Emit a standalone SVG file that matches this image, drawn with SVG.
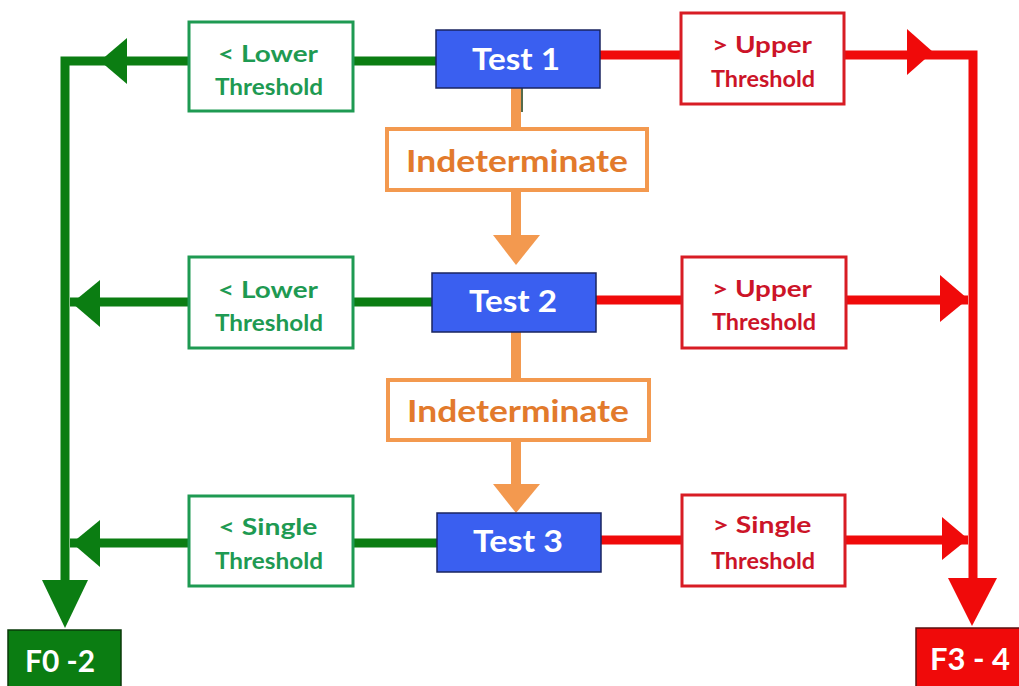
<svg xmlns="http://www.w3.org/2000/svg" width="1019" height="686" viewBox="0 0 1019 686">
<style>
text{font-family:Lato,"Open Sans","Liberation Sans",sans-serif;font-weight:bold;text-anchor:middle}
.test rect{fill:#3a5ff0;stroke:#1a2460;stroke-width:1.5}
.test text{fill:#ffffff;font-size:31px}
.gbox rect{fill:#ffffff;stroke:#1e9a52;stroke-width:3}
.gbox text{fill:#1e9a52;font-size:23px}
.rbox rect{fill:#ffffff;stroke:#d81c24;stroke-width:3}
.rbox text{fill:#cc1428;font-size:23px}
.obox rect{fill:#ffffff;stroke:#f3994f;stroke-width:4}
.obox text{fill:#e27a2c;font-size:31px}
.gl{stroke:#0b7d12;stroke-width:9;fill:none}
.rl{stroke:#f00a0a;stroke-width:9;fill:none}
.ol{stroke:#f3994f;stroke-width:10;fill:none}
.gh{fill:#0b7d12}
.rh{fill:#f00a0a}
.oh{fill:#f3994f}
</style>
<rect width="1019" height="686" fill="#ffffff"/>
<g id="connectors">
  <path class="gl" d="M436,61 H65 V582"/>
  <polygon class="gh" points="100,61 127,38 127,84"/>
  <path class="gl" d="M432,302 H70"/>
  <polygon class="gh" points="72,303 100,280 100,327"/>
  <path class="gl" d="M437,543 H70"/>
  <polygon class="gh" points="72,543 100,520 100,567"/>
  <polygon class="gh" points="42,580 88,580 65,628"/>
  <path class="rl" d="M600,55 H973 V580"/>
  <polygon class="rh" points="933,52 907,29 907,75"/>
  <path class="rl" d="M596,300 H968"/>
  <polygon class="rh" points="968,299 940,275 940,322"/>
  <path class="rl" d="M601,540 H968"/>
  <polygon class="rh" points="968,539 942,517 942,560"/>
  <polygon class="rh" points="948,578 997,578 972,626"/>
  <path class="ol" d="M516,88 V237"/>
  <line x1="522" y1="88" x2="522" y2="112" stroke="#1d3a10" stroke-width="1.5"/>
  <polygon class="oh" points="493,235 540,235 516,265"/>
  <path class="ol" d="M516,332 V486"/>
  <polygon class="oh" points="493,484 540,484 516,513"/>
</g>
<g id="test1" class="test"><rect x="436" y="30" width="164" height="58"/><text x="516" y="70" textLength="88" lengthAdjust="spacingAndGlyphs">Test 1</text></g>
<g id="test2" class="test"><rect x="432" y="273" width="164" height="59"/><text x="513" y="312" textLength="88" lengthAdjust="spacingAndGlyphs">Test 2</text></g>
<g id="test3" class="test"><rect x="437" y="513" width="164" height="59"/><text x="518" y="552" textLength="90" lengthAdjust="spacingAndGlyphs">Test 3</text></g>
<g id="indet1" class="obox"><rect x="387" y="129" width="260" height="61"/><text x="517" y="172" textLength="222" lengthAdjust="spacingAndGlyphs">Indeterminate</text></g>
<g id="indet2" class="obox"><rect x="388" y="380" width="261" height="60"/><text x="518" y="422" textLength="222" lengthAdjust="spacingAndGlyphs">Indeterminate</text></g>
<g id="lower1" class="gbox"><rect x="189" y="22" width="164" height="89"/><text x="268" y="62" textLength="100" lengthAdjust="spacingAndGlyphs">&lt; Lower</text><text x="269" y="95" textLength="108" lengthAdjust="spacingAndGlyphs">Threshold</text></g>
<g id="lower2" class="gbox"><rect x="189" y="257" width="164" height="91"/><text x="268" y="298" textLength="100" lengthAdjust="spacingAndGlyphs">&lt; Lower</text><text x="269" y="331" textLength="108" lengthAdjust="spacingAndGlyphs">Threshold</text></g>
<g id="single-low" class="gbox"><rect x="189" y="496" width="164" height="90"/><text x="268" y="535" textLength="99" lengthAdjust="spacingAndGlyphs">&lt; Single</text><text x="269" y="569" textLength="108" lengthAdjust="spacingAndGlyphs">Threshold</text></g>
<g id="upper1" class="rbox"><rect x="681" y="13" width="163" height="91"/><text x="762" y="53" textLength="100" lengthAdjust="spacingAndGlyphs">&gt; Upper</text><text x="763" y="87" textLength="104" lengthAdjust="spacingAndGlyphs">Threshold</text></g>
<g id="upper2" class="rbox"><rect x="682" y="257" width="164" height="91"/><text x="762" y="297" textLength="100" lengthAdjust="spacingAndGlyphs">&gt; Upper</text><text x="764" y="330" textLength="104" lengthAdjust="spacingAndGlyphs">Threshold</text></g>
<g id="single-high" class="rbox"><rect x="682" y="495" width="163" height="91"/><text x="762" y="533" textLength="99" lengthAdjust="spacingAndGlyphs">&gt; Single</text><text x="763" y="569" textLength="104" lengthAdjust="spacingAndGlyphs">Threshold</text></g>
<g id="f02"><rect x="8" y="630" width="113" height="60" fill="#0b7d12" stroke="#0a3a0a" stroke-width="1.5"/><text x="60" y="672" fill="#ffffff" font-size="30" textLength="70" lengthAdjust="spacingAndGlyphs">F0 -2</text></g>
<g id="f34"><rect x="916" y="628" width="110" height="62" fill="#f00a0a" stroke="#5a1010" stroke-width="1.5"/><text x="970" y="670" fill="#ffffff" font-size="30" textLength="80" lengthAdjust="spacingAndGlyphs">F3 - 4</text></g>
</svg>
